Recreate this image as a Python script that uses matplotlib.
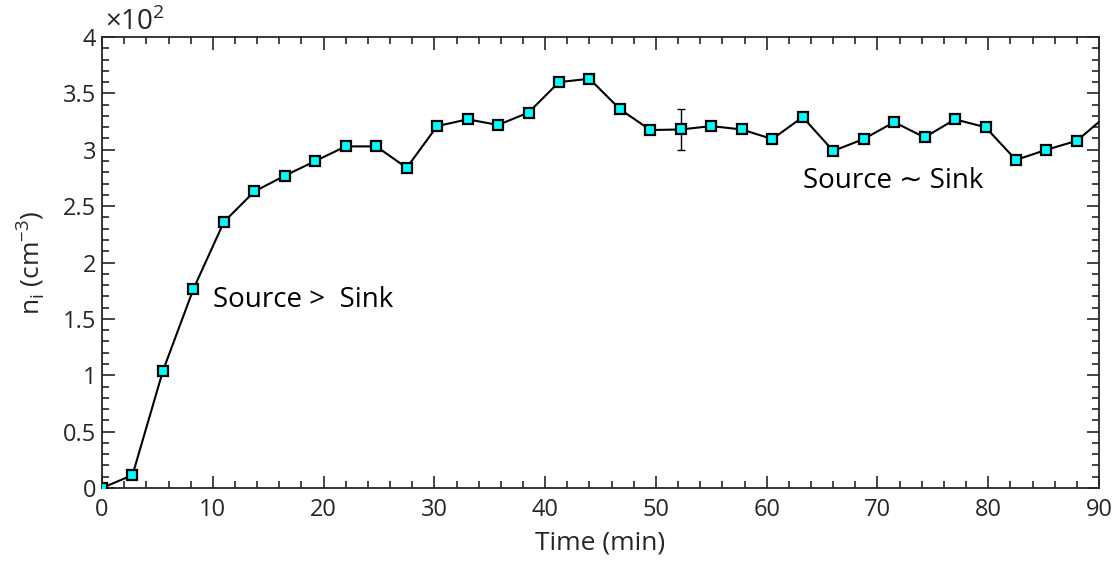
import numpy as np
import matplotlib
matplotlib.use("Agg")
import matplotlib.pyplot as plt
from matplotlib.ticker import MultipleLocator, FuncFormatter

# time (min) and ion density (cm^-3)
time_min = [0, 2.75, 5.5, 8.25, 11, 13.75, 16.5, 19.25, 22, 24.75, 27.5, 30.25,
            33, 35.75, 38.5, 41.25, 44, 46.75, 49.5, 52.25, 55, 57.75, 60.5,
            63.25, 66, 68.75, 71.5, 74.25, 77, 79.75, 82.5, 85.25, 88, 90.75]
n_i = [0, 11.5, 104, 176.5, 236, 263, 277, 290, 303, 303, 284, 321,
       327, 322, 333, 360, 363, 336, 317.5, 318, 321, 318, 309.5,
       329, 299, 309.5, 324.5, 311, 327, 320, 291, 300, 308, 331]

err_time = [52.25]
err_val = [318]
err_size = [18.5]

txt = '#262626'
plt.rcParams['font.family'] = ['Open Sans', 'DejaVu Sans']
plt.rcParams['mathtext.fontset'] = 'custom'
plt.rcParams['mathtext.rm'] = 'Open Sans'

fig = plt.figure(figsize=(11.2, 5.61), dpi=100)
ax = fig.add_axes([0.0911, 0.1301, 0.8902, 0.8039])

ax.plot(time_min, n_i, color='black', lw=1.5, marker='s', ms=7.5,
        mfc='#00ffff', mec='black', mew=1.6, zorder=3)
ax.errorbar(err_time, err_val, yerr=err_size, fmt='none', ecolor='black',
            elinewidth=1.0, capsize=3, capthick=1.0, zorder=2)

ax.set_xlim(0, 90)
ax.set_ylim(0, 400)
ax.xaxis.set_major_locator(MultipleLocator(10))
ax.xaxis.set_minor_locator(MultipleLocator(2))
ax.yaxis.set_major_locator(MultipleLocator(50))
ax.yaxis.set_minor_locator(MultipleLocator(10))
ax.yaxis.set_major_formatter(FuncFormatter(lambda v, p: '%g' % (v / 100)))

ax.tick_params(which='both', direction='in', top=True, right=True,
               colors=txt, labelsize=17, width=1.2)
ax.tick_params(which='major', length=9)
ax.tick_params(axis='x', which='major', pad=7)
ax.tick_params(axis='y', which='major', pad=4)
ax.tick_params(which='minor', length=5)
for s in ax.spines.values():
    s.set_color(txt)
    s.set_linewidth(1.3)

ax.set_xlabel('Time (min)', fontsize=19, color=txt, labelpad=6)
ax.set_ylabel(r'n$_\mathregular{i}$ (cm$^\mathregular{-3}$)', fontsize=19,
              color=txt, labelpad=12)
ax.text(0.003, 1.0, r'$\times$10$^\mathregular{2}$', transform=ax.transAxes,
        fontsize=20, color=txt, ha='left', va='bottom')

ax.text(10.0, 167, 'Source >  Sink', fontsize=20, color='black', va='center')
ax.text(63.3, 272, 'Source \u223c Sink', fontsize=20, color='black', va='center')

fig.savefig('out.png', dpi=100)
